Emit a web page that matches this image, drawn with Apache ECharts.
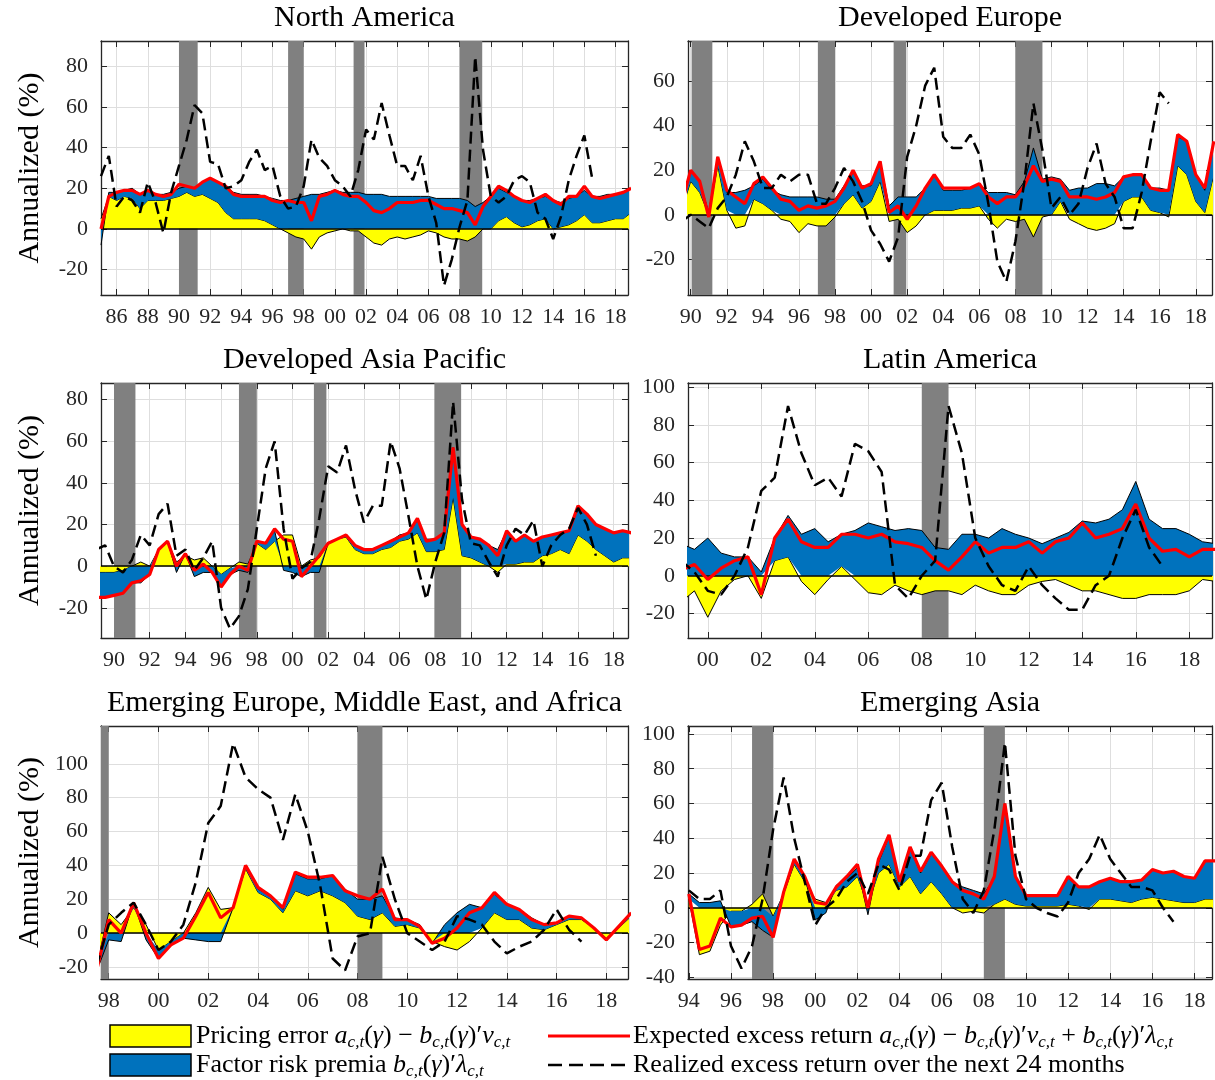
<!DOCTYPE html>
<html><head><meta charset="utf-8">
<script src="https://cdn.jsdelivr.net/npm/echarts@6/dist/echarts.min.js"></script>
<style>html,body{margin:0;padding:0;background:#fff}#c{width:1215px;height:1080px}</style>
</head><body><div id="c"></div>
<script>
// ---------- DATA (half-year steps from each start year) ----------
const STEP = 0.5;

// North America
const naStart = 1985.0;
const naPE  = [5,16, 14,16, 15,10, 14,14, 14,15, 16,18, 16,17, 15,13, 8,5, 5,5, 5,4, 2,0, -2,-4, -5,-10, -4,-2, -1,0, -1,-1, -4,-7, -8,-5, -4,-5, -4,-3, -1,-2, -4,-5, -5,-6, -4,0, 0,4, 6,3, 1,2, 4,5, 0,1, 2,4, 7,3, 3,4, 5,5, 8];
const naFRP = [-8,2, 4,3, 5,7, 5,3, 3,3, 4,3, 4,6, 10,10, 13,13, 12,12, 12,12, 13,14, 14,15, 16,17, 17,18, 19,18, 18,18, 17,17, 17,16, 16,16, 16,16, 16,15, 15,15, 15,14, 11,13, 16,16, 12,13, 13,12, 11,11, 14,12, 13,12, 12,13, 13,13, 12,13, 12];
const naER  = [0,16, 18,19, 19,17, 19,17, 16,17, 22,21, 20,23, 25,23, 21,17, 16,16, 16,16, 14,13, 14,13, 13,4, 16,17, 19,17, 16,16, 13,9, 8,10, 13,13, 13,14, 14,12, 10,10, 9,8, 2,11, 16,21, 19,16, 14,13, 15,17, 14,12, 16,16, 21,16, 15,16, 17,18, 20];
const naRR  = [26,36, 11,16, 14,8, 23,13, -2,18, 31,44, 61,57, 33,32, 20,21, 24,33, 39,29, 31,16, 10,11, 21,44, 35,31, 24,21, 16,29, 49,44, 62,46, 31,31, 24,36, 16,3, -28,-15, 1,14, 85,39, 16,13, 16,24, 26,23, 8,5, -5,6, 24,36, 46,25, null,null, null,null, null];
const naBands = [[1990.0,1991.2],[1997.0,1998.0],[2001.2,2001.9],[2008.0,2009.45]];
const naXTicks = [1986,1988,1990,1992,1994,1996,1998,2000,2002,2004,2006,2008,2010,2012,2014,2016,2018];
const naYTicks = [-20,0,20,40,60,80];

// Developed Europe
const deStart = 1989.5;
const dePE  = [2, 15,10, 0,22, 2,-6, -5,7, 5,2, -2,-3, -8,-4, -5,-5, -1,5, 9,3, 6,15, -3,-2, -8,-5, 0,2, 2,2, 3,3, 4,-2, -6,-2, -3,-2, -10,-1, 0,6, -2,-4, -6,-7, -6,-4, 6,8, 8,2, 1,-1, 22,18, 6,1, 18];
const deFRP = [3, 5,5, 1,4, 8,10, 11,6, 11,9, 9,8, 8,8, 8,7, 7,8, 10,10, 7,9, 4,8, 8,8, 12,16, 9,9, 8,9, 10,10, 10,10, 9,15, 30,16, 17,10, 11,12, 12,14, 14,13, 11,10, 10,10, 11,11, 13,15, 12,10, 15];
const deER  = [5, 20,15, -1,26, 11,8, 5,14, 17,12, 7,6, 2,4, 3,4, 6,12, 20,12, 14,24, 1,4, -2,4, 12,18, 12,12, 12,12, 14,8, 5,8, 8,13, 22,15, 16,15, 8,8, 8,7, 8,10, 17,18, 18,12, 11,11, 36,33, 18,12, 33];
const deRR  = [-3, 0,-3, -6,3, 8,18, 33,24, 12,12, 18,15, 18,18, 5,5, 12,21, 15,6, -7,-13, -21,-10, 26,40, 58,66, 35,30, 30,36, 27,5, -21,-30, -12,15, 50,29, 3,8, 0,5, 21,32, 14,8, -6,-6, 10,33, 55,50, null,null, null,null, null];
const deBands = [[1990.05,1991.2],[1997.05,1998.0],[2001.25,2001.95],[2008.0,2009.5]];
const deXTicks = [1990,1992,1994,1996,1998,2000,2002,2004,2006,2008,2010,2012,2014,2016,2018];
const deYTicks = [-20,0,20,40,60];

// Developed Asia Pacific
const dapStart = 1989.0;
const dapPE  = [-3,-3, -3,-2, 0,2, 0,8, 12,2, 5,3, 4,0, -4,-1, 2,1, 11,8, 12,15, 15,0, 3,4, 11,13, 14,8, 6,6, 8,9, 12,13, 16,7, 7,8, 33,5, 4,2, 0,-3, 1,1, 2,2, 5,6, 8,6, 15,12, 8,5, 2,4, 4];
const dapFRP = [-12,-12, -11,-11, -8,-8, -4,0, 0,-3, 1,-5, -3,-3, -6,-3, -2,-3, 1,3, 5,-2, -3,-5, -3,-3, 0,0, 1,2, 2,2, 2,3, 3,3, 6,6, 6,8, 24,15, 10,11, 10,8, 16,11, 13,10, 9,9, 8,11, 13,13, 12,13, 14,13, 12];
const dapER  = [-15,-15, -14,-13, -8,-7, -4,8, 12,0, 6,-2, 1,-3, -10,-4, 0,-2, 12,11, 18,13, 12,-5, 0,5, 11,13, 15,10, 8,8, 10,12, 14,16, 23,12, 13,16, 57,20, 14,13, 10,5, 17,12, 15,12, 14,15, 16,17, 29,25, 20,18, 16,17, 16];
const dapRR  = [8,10, 0,-3, 3,15, 10,25, 30,5, 8,-2, 4,12, -20,-30, -24,-11, 18,47, 60,18, -6,-1, 2,23, 48,45, 58,37, 21,29, 29,60, 47,24, 0,-16, 2,16, 79,32, 11,10, 2,-5, 10,18, 15,22, 0,10, 15,18, 28,20, 5,null, null,null, null];
const dapBands = [[1990.0,1991.2],[1997.0,1998.0],[2001.2,2001.9],[2007.95,2009.45]];
const dapXTicks = [1990,1992,1994,1996,1998,2000,2002,2004,2006,2008,2010,2012,2014,2016,2018];
const dapYTicks = [-20,0,20,40,60,80];

// Latin America
const laStart = 1999.0;
const laPE  = [-14,-8, -22,-8, -2,0, -12,8, 10,-3, -10,-2, 5,-2, -9,-10, -5,-8, -10,-8, -8,-10, -5,-8, -10,-10, -5,-3, -2,-5, -8,-8, -10,-12, -12,-10, -10,-10, -8,-2, -3];
const laFRP = [17,14, 20,12, 10,10, 2,12, 22,22, 25,18, 17,24, 28,26, 24,25, 24,15, 14,22, 22,20, 25,22, 20,17, 20,23, 29,28, 30,35, 50,30, 25,25, 22,18, 17];
const laER  = [3,6, -2,4, 8,10, -10,20, 30,18, 15,15, 22,22, 20,22, 18,17, 15,8, 3,10, 18,12, 15,15, 18,12, 18,20, 28,20, 22,25, 38,20, 13,14, 10,14, 14];
const laRR  = [8,2, -8,-10, 0,15, 45,52, 90,65, 48,52, 42,70, 66,55, -5,-12, 0,8, 90,65, 20,5, -5,-8, 5,-5, -12,-18, -18,-5, 0,20, 35,15, 5,null, null,null, null];
const laBands = [[2008.0,2009.0]];
const laXTicks = [2000,2002,2004,2006,2008,2010,2012,2014,2016,2018];
const laYTicks = [-20,0,20,40,60,80,100];

// Emerging Europe, Middle East, and Africa
const emStart = 1997.5;
const emPE  = [-20, 12,5, 15,5, -10,-5, 0,12, 27,14, 15,38, 24,20, 12,25, 22,25, 22,18, 10,8, 12,4, 5,3, -5,-8, -10,-5, 3,12, 8,8, 3,2, 5,8, 8,3, -3,3, 10];
const emFRP = [-3, -4,-5, 3,-4, -5,-2, -3,-4, -5,-5, 0,2, 2,2, 2,10, 10,7, 12,8, 10,12, 10,5, 3,2, -1,5, 12,17, 12,11, 9,6, 6,3, 1,2, 1,0, -1,1, 2];
const emER  = [-23, 8,0, 18,0, -15,-7, -3,10, 24,9, 15,40, 27,22, 15,36, 33,33, 34,25, 22,20, 26,8, 8,4, -6,-3, 3,12, 15,24, 17,14, 8,5, 6,10, 9,3, -4,4, 12];
const emRR  = [-20, 5,12, 18,5, -10,-5, 5,30, 65,75, 112,92, 85,80, 55,82, 60,28, -15,-22, -2,0, 45,20, 0,-5, -10,-5, 10,8, 5,-5, -12,-8, -5,2, 14,2, -5,null, null,null, null];
const emBands = [[1997.0,1998.0],[2008.0,2009.0]];
const emXTicks = [1998,2000,2002,2004,2006,2008,2010,2012,2014,2016,2018];
const emYTicks = [-20,0,20,40,60,80,100];

// Emerging Asia
const eaStart = 1994.0;
const eaPE  = [5,-27, -25,-10, -2,-2, 2,8, -5,8, 25,15, 5,3, 10,12, 18,2, 20,25, 12,18, 8,15, 8,0, -3,-2, -3,2, 5,2, 1,1, 1,1, 2,1, -1,5, 5,4, 3,5, 6,5, 4,3, 3,5, 5];
const eaFRP = [3,3, 3,4, -9,-8, -8,-13, -12,2, 3,3, -7,-3, 3,5, 5,-4, 6,16, 3,16, 12,16, 16,15, 12,10, 8,15, 55,16, 6,6, 6,6, 15,11, 12,10, 12,11, 12,11, 16,15, 17,15, 14,22, 22];
const eaER  = [8,-24, -22,-6, -11,-10, -6,-5, -17,9, 28,18, 3,2, 12,18, 25,0, 28,42, 15,35, 21,32, 24,15, 10,8, 5,18, 60,18, 7,7, 7,7, 18,12, 12,15, 17,15, 15,16, 22,20, 21,18, 17,27, 27];
const eaRR  = [10,5, 5,10, -22,-35, -22,5, 45,75, 40,15, -10,0, 5,15, 20,8, 25,22, 10,30, 30,62, 72,35, 5,-3, 10,45, 95,30, 5,0, -3,-5, 3,20, 28,42, 28,20, 12,12, 10,0, -8,null, null,null, null];
const eaBands = [[1997.0,1998.0],[2008.0,2009.0]];
const eaXTicks = [1994,1996,1998,2000,2002,2004,2006,2008,2010,2012,2014,2016,2018];
const eaYTicks = [-40,-20,0,20,40,60,80,100];

// ---------- LAYOUT / STYLE ----------
const FONT = '"Liberation Serif", "Times New Roman", serif';
const AX = '#262626';
const GRIDC = '#dedede';
const C_YEL = '#ffff00', C_BLUE = '#0072bd', C_RED = '#ff0000', C_BAND = '#808080';

const panels = [
  {title:'North America', start:naStart, pe:naPE, frp:naFRP, er:naER, rr:naRR, bands:naBands, xT:naXTicks, yT:naYTicks, xr:[1985.0,2018.8], yr:[-32.6,92.6], box:[101,41,527,254], yl:true},
  {title:'Developed Europe', start:deStart, pe:dePE, frp:deFRP, er:deER, rr:deRR, bands:deBands, xT:deXTicks, yT:deYTicks, xr:[1989.85,2018.9], yr:[-36,78], box:[688,41,524,254], yl:false},
  {title:'Developed Asia Pacific', start:dapStart, pe:dapPE, frp:dapFRP, er:dapER, rr:dapRR, bands:dapBands, xT:dapXTicks, yT:dapYTicks, xr:[1989.27,2018.8], yr:[-34.5,88], box:[101,383,527,255], yl:true},
  {title:'Latin America', start:laStart, pe:laPE, frp:laFRP, er:laER, rr:laRR, bands:laBands, xT:laXTicks, yT:laYTicks, xr:[1999.26,2018.85], yr:[-33,102.2], box:[688,383,524,255], yl:false},
  {title:'Emerging Europe, Middle East, and Africa', start:emStart, pe:emPE, frp:emFRP, er:emER, rr:emRR, bands:emBands, xT:emXTicks, yT:emYTicks, xr:[1997.69,2018.87], yr:[-27.1,122.3], box:[101,726,527,253], yl:true},
  {title:'Emerging Asia', start:eaStart, pe:eaPE, frp:eaFRP, er:eaER, rr:eaRR, bands:eaBands, xT:eaXTicks, yT:eaYTicks, xr:[1993.96,2018.83], yr:[-41,104.6], box:[688,726,524,253], yl:false}
];

// rows as [value, year]; encode maps column 1 -> x, column 0 -> y (value is the stacked dimension)
function pts(start, vals){ const out=[]; vals.forEach((v,i)=>{ if(v!==null && v!==undefined) out.push([v, start+i*STEP]); }); return out; }
const ENC = {x:1, y:0};

const option = {animation:false, backgroundColor:'#fff', title:[], grid:[], xAxis:[], yAxis:[], series:[], graphic:[]};

panels.forEach((p,i)=>{
  const [L,T,W,H] = p.box;
  option.title.push({text:p.title, left:L+W/2, top:T-38, textAlign:'center', padding:0,
    textStyle:{fontFamily:FONT, fontSize:30, fontWeight:'normal', color:'#000'}});
  option.grid.push({left:L, top:T, width:W, height:H, show:false});
  const xb = option.xAxis.length;
  option.xAxis.push({type:'value', gridIndex:i, position:'bottom', min:p.xr[0], max:p.xr[1],
    axisLine:{show:true, onZero:false, lineStyle:{color:AX, width:1.3}},
    axisTick:{show:true, inside:true, length:6, customValues:p.xT, lineStyle:{color:AX, width:1}},
    axisLabel:{show:true, customValues:p.xT, hideOverlap:false, margin:11, fontFamily:FONT, fontSize:22, color:AX,
      formatter:(v)=>String(Math.round(v)%100).padStart(2,'0')},
    splitLine:{show:true, lineStyle:{color:GRIDC, width:1}}});
  option.xAxis.push({type:'value', gridIndex:i, position:'top', min:p.xr[0], max:p.xr[1],
    axisLine:{show:true, onZero:false, lineStyle:{color:AX, width:1.3}},
    axisTick:{show:true, inside:true, length:6, customValues:p.xT, lineStyle:{color:AX, width:1}},
    axisLabel:{show:false}, splitLine:{show:false}});
  const yb = option.yAxis.length;
  option.yAxis.push({type:'value', gridIndex:i, position:'left', min:p.yr[0], max:p.yr[1],
    axisLine:{show:true, onZero:false, lineStyle:{color:AX, width:1.3}},
    axisTick:{show:true, inside:true, length:6, customValues:p.yT, lineStyle:{color:AX, width:1}},
    axisLabel:{show:true, customValues:p.yT, margin:13, fontFamily:FONT, fontSize:22, color:AX, formatter:(v)=>String(v)},
    splitLine:{show:true, lineStyle:{color:GRIDC, width:1}},
    name: p.yl ? 'Annualized (%)' : '', nameLocation:'middle', nameGap:56, nameRotate:90,
    nameTextStyle:{fontFamily:FONT, fontSize:30, color:'#000'}});
  option.yAxis.push({type:'value', gridIndex:i, position:'right', min:p.yr[0], max:p.yr[1],
    axisLine:{show:true, onZero:false, lineStyle:{color:AX, width:1.3}},
    axisTick:{show:true, inside:true, length:6, customValues:p.yT, lineStyle:{color:AX, width:1}},
    axisLabel:{show:false}, splitLine:{show:false}});

  const stackId = 'stk'+i;
  option.series.push({name:'Pricing error', type:'line', xAxisIndex:xb, yAxisIndex:yb, data:pts(p.start,p.pe), encode:ENC,
    stack:stackId, stackStrategy:'samesign', symbol:'none', silent:true, z:2,
    lineStyle:{color:'#000', width:1}, itemStyle:{color:C_YEL}, areaStyle:{color:C_YEL, opacity:1},
    markArea:{silent:true, itemStyle:{color:C_BAND, opacity:1}, label:{show:false},
      data:p.bands.map(b=>[{xAxis:b[0]},{xAxis:b[1]}])}});
  option.series.push({name:'Factor risk premia', type:'line', xAxisIndex:xb, yAxisIndex:yb, data:pts(p.start,p.frp), encode:ENC,
    stack:stackId, stackStrategy:'samesign', symbol:'none', silent:true, z:3,
    lineStyle:{color:'#000', width:1}, itemStyle:{color:C_BLUE}, areaStyle:{color:C_BLUE, opacity:1},
    markLine:{silent:true, symbol:'none', label:{show:false}, lineStyle:{color:'#000', width:1.6, type:'solid'}, data:[{yAxis:0}]}});
  option.series.push({name:'Expected excess return', type:'line', xAxisIndex:xb, yAxisIndex:yb, data:pts(p.start,p.er), encode:ENC,
    symbol:'none', silent:true, z:10, lineStyle:{color:C_RED, width:3.2}, itemStyle:{color:C_RED}});
  option.series.push({name:'Realized excess return', type:'line', xAxisIndex:xb, yAxisIndex:yb, data:pts(p.start,p.rr), encode:ENC,
    symbol:'none', silent:true, z:11, lineStyle:{color:'#000', width:2.5, type:[12,6]}, itemStyle:{color:'#000'}});
});

// ---------- LEGEND (drawn as graphic) ----------
const rich = {
  n:{fontFamily:FONT, fontSize:26, lineHeight:30, color:'#000'},
  i:{fontFamily:FONT, fontSize:26, lineHeight:30, fontStyle:'italic', color:'#000'},
  s:{fontFamily:FONT, fontSize:17, lineHeight:15, fontStyle:'italic', verticalAlign:'bottom', color:'#000'}
};
const sub = '{s|c,t}';
const txtPE  = '{n|Pricing error }{i|a}'+sub+'{n|(}{i|γ}{n|) − }{i|b}'+sub+'{n|(}{i|γ}{n|)′}{i|ν}'+sub;
const txtFRP = '{n|Factor risk premia }{i|b}'+sub+'{n|(}{i|γ}{n|)′}{i|λ}'+sub;
const txtER  = '{n|Expected excess return }{i|a}'+sub+'{n|(}{i|γ}{n|) − }{i|b}'+sub+'{n|(}{i|γ}{n|)′}{i|ν}'+sub+'{n| + }{i|b}'+sub+'{n|(}{i|γ}{n|)′}{i|λ}'+sub;
const txtRR  = '{n|Realized excess return over the next 24 months}';
option.graphic = [
  {type:'rect', shape:{x:110, y:1025, width:81, height:22}, style:{fill:C_YEL, stroke:'#000', lineWidth:1.5}},
  {type:'rect', shape:{x:110, y:1054, width:81, height:22}, style:{fill:C_BLUE, stroke:'#000', lineWidth:1.5}},
  {type:'line', shape:{x1:548, y1:1036, x2:630, y2:1036}, style:{stroke:C_RED, lineWidth:3.2}},
  {type:'line', shape:{x1:548, y1:1065, x2:630, y2:1065}, style:{stroke:'#000', lineWidth:2.5, lineDash:[14,7]}},
  {type:'text', x:196, y:1036, style:{text:txtPE, rich:rich, verticalAlign:'middle', align:'left', fill:'#000', fontFamily:FONT, fontSize:26}},
  {type:'text', x:196, y:1065, style:{text:txtFRP, rich:rich, verticalAlign:'middle', align:'left', fill:'#000', fontFamily:FONT, fontSize:26}},
  {type:'text', x:633, y:1036, style:{text:txtER, rich:rich, verticalAlign:'middle', align:'left', fill:'#000', fontFamily:FONT, fontSize:26}},
  {type:'text', x:633, y:1065, style:{text:txtRR, rich:rich, verticalAlign:'middle', align:'left', fill:'#000', fontFamily:FONT, fontSize:26}}
];

const chart = echarts.init(document.getElementById('c'), null, {renderer:'canvas'});
chart.setOption(option);
</script></body></html>
